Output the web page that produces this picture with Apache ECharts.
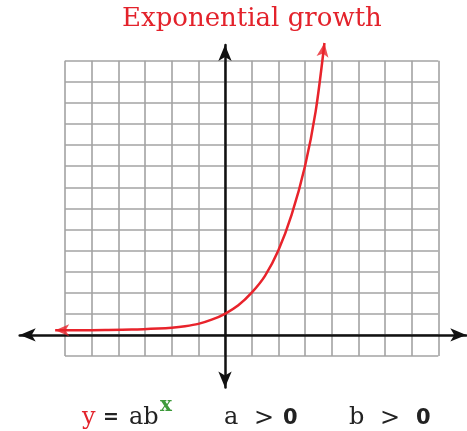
<!DOCTYPE html>
<html>
<head>
<meta charset="utf-8">
<script src="https://cdn.jsdelivr.net/npm/echarts@6/dist/echarts.min.js"></script>
<style>
  html, body { margin: 0; padding: 0; background: #fff; }
  #chart { width: 467px; height: 431px; }
</style>
</head>
<body>
<div id="chart"></div>
<script>
// curve y = ab^x (grid units)
var curveX = [-6.37, -5.5, -4.5, -3.5, -2.5, -2, -1.5, -1, -0.5, 0, 0.5, 1, 1.5, 2, 2.5, 3, 3.4, 3.73];
var curveY = [0.22, 0.22, 0.23, 0.25, 0.3, 0.34, 0.41, 0.52, 0.72, 1.0, 1.4, 2.0, 2.8, 4.0, 5.7, 8.0, 10.6, 13.84];
// graph paper range
var paperX = [-6, 8];
var paperY = [-1, 13];
// axes range (arrows reach past the paper)
var axisX = [-7.7, 9.05];
var axisY = [-2.5, 13.75];

var curve = curveX.map(function (x, i) { return [x, curveY[i]]; });
var last = curve.length - 1;

var chart = echarts.init(document.getElementById('chart'), null, {renderer: 'canvas'});

var serif = 'DejaVu Serif';
var sans = 'DejaVu Sans';
var dark = '#222';

function txt(x, s, font, size, color, weight, y) {
    return {
        type: 'text', left: x, top: y, z: 10,
        style: {text: s, fontFamily: font, fontSize: size, fill: color, fontWeight: weight || 'normal'}
    };
}

var option = {
    animation: false,
    title: {
        text: 'Exponential growth',
        left: 117, top: 1,
        textStyle: {color: '#e3222b', fontFamily: serif, fontSize: 26, fontWeight: 'normal'}
    },
    grid: [
        {left: 65, right: 28.7, top: 60.7, bottom: 75},
        {left: 19.7, right: 0.7, top: 44.9, bottom: 43.4}
    ],
    xAxis: [
        {
            type: 'value', gridIndex: 0, min: paperX[0], max: paperX[1], interval: 1,
            axisLine: {show: false}, axisTick: {show: false}, axisLabel: {show: false},
            splitLine: {show: true, lineStyle: {color: '#a3a3a3', width: 1.6}}
        },
        {
            type: 'value', gridIndex: 1, min: axisX[0], max: axisX[1],
            axisLine: {show: true, onZero: true, symbol: ['arrow', 'arrow'], symbolSize: [10, 16],
                lineStyle: {color: '#111', width: 2.5}},
            axisTick: {show: false}, axisLabel: {show: false}, splitLine: {show: false}
        }
    ],
    yAxis: [
        {
            type: 'value', gridIndex: 0, min: paperY[0], max: paperY[1], interval: 1,
            axisLine: {show: false}, axisTick: {show: false}, axisLabel: {show: false},
            splitLine: {show: true, lineStyle: {color: '#a3a3a3', width: 1.6}}
        },
        {
            type: 'value', gridIndex: 1, min: axisY[0], max: axisY[1],
            axisLine: {show: true, onZero: true, symbol: ['arrow', 'arrow'], symbolSize: [10, 16],
                lineStyle: {color: '#111', width: 2.5}},
            axisTick: {show: false}, axisLabel: {show: false}, splitLine: {show: false}
        }
    ],
    series: [
        {
            type: 'line', xAxisIndex: 1, yAxisIndex: 1, data: curve,
            smooth: 0.3, showSymbol: false, clip: false, z: 5,
            lineStyle: {color: '#e8232b', width: 2.5}
        },
        {
            type: 'scatter', xAxisIndex: 1, yAxisIndex: 1, clip: false, z: 6,
            symbol: 'arrow',
            itemStyle: {color: '#e8232b'},
            data: [
                {value: curve[0], symbolSize: [9, 14], symbolRotate: 90, symbolOffset: [0, 0]},
                {value: curve[last], symbolSize: [9, 14], symbolRotate: -8, symbolOffset: [0, 0]}
            ]
        }
    ],
    graphic: [
        txt(82, 'y', serif, 24, '#e3222b', 'normal', 406),
        txt(103, '=', sans, 19, dark, 'bold', 409),
        txt(129, 'ab', serif, 24, dark, 'normal', 406),
        txt(160, 'x', serif, 20, '#3d9a3a', 'bold', 396),
        txt(224, 'a', serif, 24, dark, 'normal', 406),
        txt(254, '>', serif, 24, dark, 'normal', 407),
        txt(283, '0', sans, 21, dark, 'bold', 408),
        txt(349, 'b', serif, 24, dark, 'normal', 406),
        txt(380, '>', serif, 24, dark, 'normal', 407),
        txt(416, '0', sans, 21, dark, 'bold', 408)
    ]
};

chart.setOption(option);
</script>
</body>
</html>
